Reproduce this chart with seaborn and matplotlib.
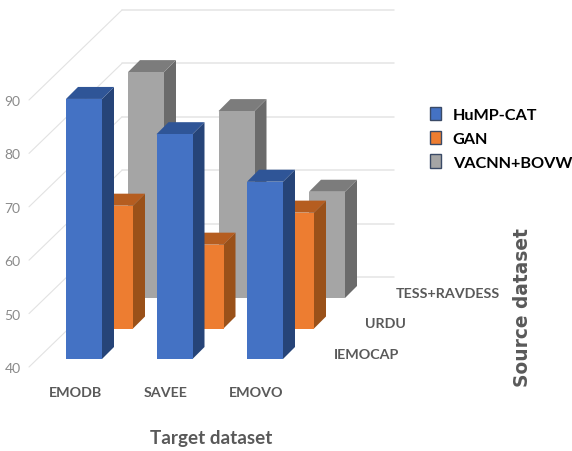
import numpy as np
import pandas as pd
import matplotlib
matplotlib.use("Agg")
import matplotlib.pyplot as plt
from matplotlib.patches import Patch
import seaborn as sns

targets = ["EMODB", "SAVEE", "EMOVO"]
sources = ["IEMOCAP", "URDU", "TESS+RAVDESS"]
hump_cat = [88.7, 82.1, 73.2]
gan = [63.0, 55.7, 61.7]
vacnn_bovw = [82.3, 75.0, 59.9]
y_ticks = [40, 50, 60, 70, 80, 90]

W, H = 572, 452
PX_X = 90.5   # pixels per category
PX_Y = 5.34   # pixels per value unit
L, R, T, B = 29, 394, 5, 368
BLUE_CX = 84
BAR_W = 36 / PX_X
ROW_DX = 31 / PX_X
ROW_DY = 30.5 / PX_Y
SIDE_DX = 12 / PX_X
SIDE_DY = 12 / PX_Y
BASE_DY = 8 / PX_Y
WALL_DX = 93 / PX_X
WALL_DY = 90 / PX_Y
BASE = 40

sns.set_theme(style="white")
plt.rcParams["font.family"] = ["Lato", "Open Sans", "DejaVu Sans"]

fig = plt.figure(figsize=(W / 100, H / 100), dpi=100)
ax = fig.add_axes([L / W, 1 - B / H, (R - L) / W, (B - T) / H])

series = [
    ("VACNN+BOVW", vacnn_bovw, 2, "#A5A5A5", "#6B6B6B", "#7C7C7C"),
    ("GAN", gan, 1, "#ED7D31", "#9A5119", "#B55D20"),
    ("HuMP-CAT", hump_cat, 0, "#4472C4", "#264478", "#2F5597"),
]
x_left = (L - BLUE_CX) / PX_X
x_right = (R - BLUE_CX) / PX_X

# walls
for v in y_ticks:
    ax.plot([x_left, x_left + WALL_DX], [v, v + WALL_DY], color="#e2e2e2", lw=0.8, zorder=0.5, clip_on=False)
    ax.plot([x_left + WALL_DX, x_right], [v + WALL_DY, v + WALL_DY], color="#e4e4e4", lw=1.1, zorder=0.5, clip_on=False)

# bars, back row first
for z, (name, vals, row, front, side, top) in enumerate(series):
    zo = 3 + z
    xs = np.arange(len(vals)) + row * ROW_DX
    bottom = BASE + BASE_DY + row * ROW_DY
    df = pd.DataFrame({"x": xs, "h": np.array(vals) - BASE})
    sns.barplot(data=df, x="x", y="h", native_scale=True, width=BAR_W, color=front,
                saturation=1, errorbar=None, bottom=bottom, ax=ax, zorder=zo + 0.1, linewidth=0)
    for xc, v in zip(xs, vals):
        xr = xc + BAR_W / 2
        xl = xc - BAR_W / 2
        yt = bottom + v - BASE
        ax.fill([xr, xr + SIDE_DX, xr + SIDE_DX, xr],
                [bottom, bottom + SIDE_DY, yt + SIDE_DY, yt], color=side, lw=0, zorder=zo)
        ax.fill([xl, xl + SIDE_DX, xr + SIDE_DX, xr],
                [yt, yt + SIDE_DY, yt + SIDE_DY, yt], color=top, lw=0, zorder=zo)

# source (depth) labels
for r, s in enumerate(sources):
    ax.text((334 - BLUE_CX) / PX_X + r * ROW_DX, BASE + 13 / PX_Y + r * ROW_DY, s,
            ha="left", va="center", fontsize=10.3, fontweight="bold", color="#595959", zorder=10)

ax.set_xlim(x_left, x_right)
ax.set_ylim(BASE, BASE + (B - T) / PX_Y)
ax.set_xticks(np.arange(len(targets)) - 9 / PX_X)
ax.set_xticklabels(targets, fontsize=10.3, fontweight="bold", color="#595959")
ax.set_yticks(y_ticks)
ax.set_yticklabels(y_ticks, fontsize=10, color="#8a8a8a")
ax.tick_params(axis="x", length=0, pad=14)
ax.tick_params(axis="y", length=0, pad=6)
ax.set_xlabel("Target dataset", fontsize=13.6, fontweight="bold", color="#595959", labelpad=22)
ax.set_ylabel("")
sns.despine(ax=ax, left=True, bottom=True)
ax.patch.set_alpha(0)

fig.text(522 / W, 1 - 308 / H, "Source dataset", rotation=90, ha="center", va="center",
         fontsize=13.4, fontweight="bold", color="#595959", family="DejaVu Sans")

handles = [Patch(facecolor=c, edgecolor="#3a4a66", lw=1.0, label=n)
           for n, c in [("HuMP-CAT", "#4472C4"), ("GAN", "#ED7D31"), ("VACNN+BOVW", "#A5A5A5")]]
leg = fig.legend(handles=handles, loc="upper left", bbox_to_anchor=(424 / W, 1 - 102 / H),
                 frameon=False, handlelength=0.7, handleheight=0.92,
                 handletextpad=0.72, labelspacing=0.52, borderpad=0.35, borderaxespad=0,
                 prop={"weight": "bold", "size": 11.7})
for t in leg.get_texts():
    t.set_color("black")

fig.savefig("out.png", dpi=100)
